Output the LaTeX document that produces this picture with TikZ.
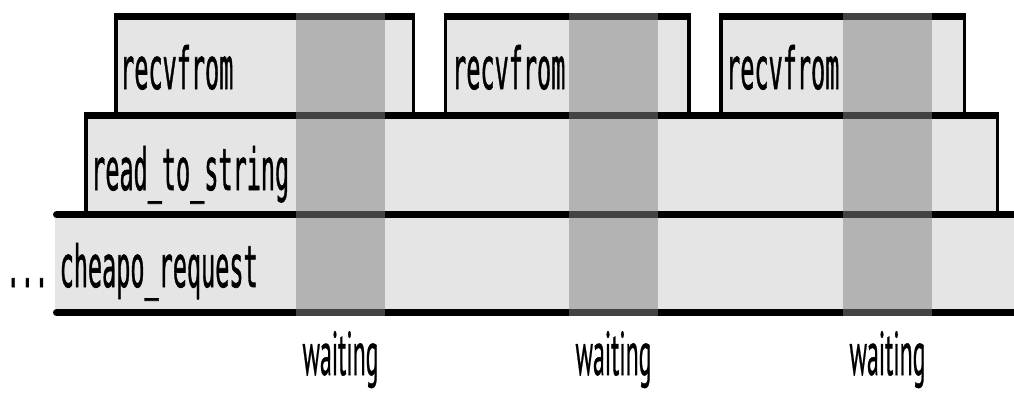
\documentclass[tikz,border=0pt]{standalone}
\usepackage{fontspec}
\usepackage{graphicx}
\newfontfamily\monofont[RawFeature={embolden=1.3}]{DejaVu Sans Mono}
\newfontfamily\labelfont[RawFeature={embolden=0.8}]{PT Sans}
\definecolor{boxfill}{RGB}{229,229,229}
\definecolor{bandgray}{RGB}{132,132,132}
\newcommand{\mtext}[1]{\scalebox{0.405}[1]{\fontsize{58}{60}\selectfont\monofont #1}}
\newcommand{\wtext}[1]{\resizebox{76pt}{\height}{\fontsize{62}{64}\selectfont\labelfont #1}}
\newcommand{\celldot}{\makebox[0.602em][c]{.}}
\tikzset{
  hline/.style={line width=7pt},
  vline/.style={line width=3.3pt},
  boxbg/.style={fill=boxfill},
  band/.style={fill=bandgray, opacity=0.515},
  mono/.style={anchor=base west, inner sep=0pt},
  wait/.style={anchor=base, inner sep=0pt}
}
\begin{document}
\begin{tikzpicture}[x=1pt,y=-1pt]
\useasboundingbox (0,0) rectangle (1014,392);
% fills
\fill[boxbg] (55,214.5) rectangle (1014,312.5);
\fill[boxbg] (86,115) rectangle (997.5,214.5);
\fill[boxbg] (116,16) rectangle (413.3,115);
\fill[boxbg] (445.5,16) rectangle (689,115);
\fill[boxbg] (721,16) rectangle (964.5,115);
% vertical sides
\draw[vline] (116,115) -- (116,16);
\draw[vline] (413.3,115) -- (413.3,16);
\draw[vline] (445.5,115) -- (445.5,16);
\draw[vline] (689,115) -- (689,16);
\draw[vline] (721,115) -- (721,16);
\draw[vline] (964.5,115) -- (964.5,16);
\draw[vline] (86,214.5) -- (86,115);
\draw[vline] (997.5,214.5) -- (997.5,115);
% horizontal edges
\draw[hline] (114.35,16) -- (414.95,16);
\draw[hline] (443.85,16) -- (690.65,16);
\draw[hline] (719.35,16) -- (966.15,16);
\draw[hline] (84.35,115) -- (999.15,115);
\draw[hline,line cap=round] (56.5,214.5) -- (1014,214.5);
\draw[hline,line cap=round] (56.5,312.5) -- (1014,312.5);
% waiting bands
\fill[band] (296,12.5) rectangle (385,316);
\fill[band] (569,12.5) rectangle (658,316);
\fill[band] (843,12.5) rectangle (932,316);
% texts
\node[mono] (recv1) at (120,89) {\mtext{recvfrom}};
\node[mono] (recv2) at (452,89) {\mtext{recvfrom}};
\node[mono] (recv3) at (726,89) {\mtext{recvfrom}};
\node[mono] (rts) at (91,190) {\mtext{read\_to\_string}};
\node[mono] (dots) at (6,287) {\mtext{\celldot\celldot\celldot}};
\node[mono] (cheapo) at (59.5,287) {\mtext{cheapo\_request}};
\node[wait] (w1) at (340.5,375) {\wtext{waiting}};
\node[wait] (w2) at (613.5,375) {\wtext{waiting}};
\node[wait] (w3) at (887.5,375) {\wtext{waiting}};
\end{tikzpicture}
\end{document}
